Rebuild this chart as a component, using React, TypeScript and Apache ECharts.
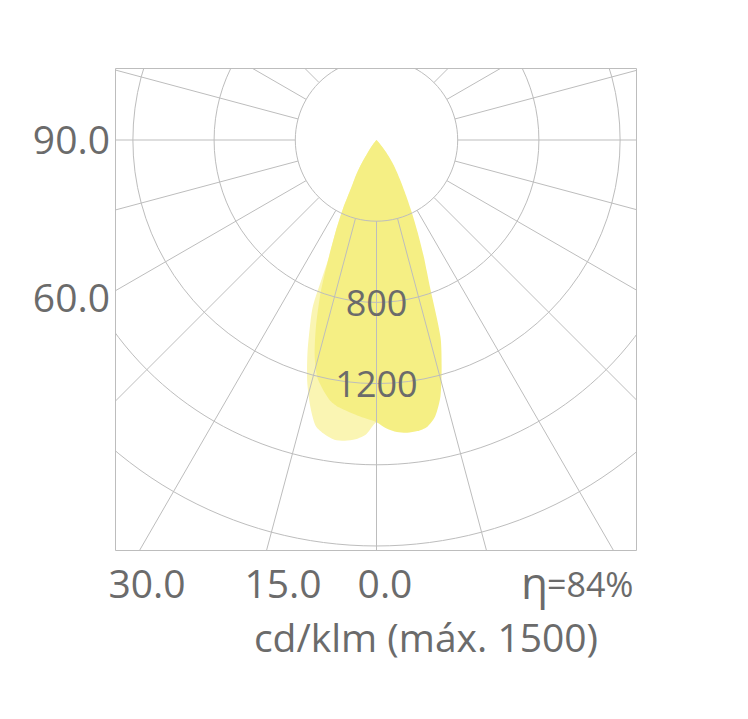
import React, { useEffect, useRef } from "react";
import * as echarts from "echarts";

// Polar angles (degrees from nadir) at which the intensity curves are sampled
const curveAngles = [0, 2, 4, 6, 8, 10, 12, 14, 16, 18, 20, 21, 22, 24, 26, 28, 30, 32, 35, 38, 42, 45];
// Plane A (strong yellow) – cd/klm, right half and left half
const planeARight = [1390, 1422, 1442, 1450, 1448, 1435, 1391, 1302, 1164, 1020, 769, 690, 625, 498, 395, 311, 247, 197, 136, 74, 20, 0];
const planeALeft = [1390, 1374, 1360, 1345, 1330, 1305, 1260, 1205, 1105, 965, 810, 720, 632, 494, 376, 261, 206, 152, 72, 35, 10, 0];
// Plane B (pale yellow) – cd/klm, right half and left half
const planeBRight = [1390, 1410, 1420, 1425, 1420, 1400, 1350, 1260, 1120, 980, 740, 670, 600, 480, 370, 290, 230, 180, 120, 60, 15, 0];
const planeBLeft = [1390, 1450, 1478, 1490, 1491, 1472, 1440, 1350, 1238, 1100, 950, 870, 640, 494, 376, 261, 206, 152, 72, 35, 10, 0];

// Radial grid lines every 15°
const radialAngles = [0, 15, 30, 45, 60, 75, 90, 105, 120, 135, 150, 165, 180, 195, 210, 225, 240, 255, 270, 285, 300, 315, 330, 345];
// Intensity rings
const ringMax = 2000;
const ringStep = 400;
const ringLabels = [800, 1200];
// Angle tick labels
const leftLabels = ["90.0", "60.0"];
const bottomLabels = ["30.0", "15.0", "0.0"];
const efficiencySymbol = "η";
const efficiencyText = "=84%";
const unitText = "cd/klm (máx. 1500)";

const GRID = "#bdbdbd";
const TEXT = "#6b6b6b";
const FONT = "'Open Sans', 'Noto Sans', sans-serif";

export default function App() {
  const ref = useRef<HTMLDivElement>(null);

  useEffect(() => {
    if (!ref.current) return;
    const chart = echarts.init(ref.current, undefined, { renderer: "svg" });

    const curveItem = (right: number[], left: number[], fill: string) =>
      (params: any, api: any) => {
        const pts: number[][] = [];
        for (let i = curveAngles.length - 1; i >= 0; i--) {
          pts.push(api.coord([right[i], 360 - curveAngles[i]]));
        }
        for (let i = 1; i < curveAngles.length; i++) {
          pts.push(api.coord([left[i], curveAngles[i]]));
        }
        return {
          type: "polygon",
          shape: { points: pts, smooth: 0.25 },
          style: { fill, stroke: "none" },
        };
      };

    const labelStyle = (text: string, x: number, y: number, align: string, size = 39) => ({
      type: "text",
      z: 60,
      x,
      y,
      style: {
        text,
        fill: TEXT,
        font: `${size}px ${FONT}`,
        textAlign: align,
        textVerticalAlign: "middle",
      },
    });

    chart.setOption({
      animation: false,
      backgroundColor: "#ffffff",
      polar: { center: [376.5, 140], radius: 406 },
      angleAxis: {
        type: "value",
        min: 0,
        max: 360,
        startAngle: 270,
        clockwise: true,
        axisLine: { show: false },
        axisTick: { show: false },
        axisLabel: { show: false },
        splitLine: { show: false },
      },
      radiusAxis: {
        type: "value",
        min: 0,
        max: ringMax,
        interval: ringStep,
        z: 6,
        axisLine: { show: false },
        axisTick: { show: false },
        splitLine: { show: true, lineStyle: { color: GRID, width: 1 } },
        axisLabel: {
          show: true,
          margin: 0,
          align: "center",
          verticalAlign: "middle",
          fontSize: 36,
          fontFamily: FONT,
          color: TEXT,
          formatter: (v: number) => (ringLabels.indexOf(v) >= 0 ? String(v) : ""),
        },
      },
      series: [
        {
          type: "custom",
          coordinateSystem: "polar",
          z: 1,
          silent: true,
          data: [[0, 0]],
          renderItem: curveItem(planeBRight, planeBLeft, "#faf5b3"),
        },
        {
          type: "custom",
          coordinateSystem: "polar",
          z: 2,
          silent: true,
          data: [[0, 0]],
          renderItem: curveItem(planeARight, planeALeft, "#f5ef84"),
        },
        {
          type: "custom",
          coordinateSystem: "polar",
          z: 4,
          silent: true,
          data: radialAngles.map((a) => [ringMax + 700, a]),
          renderItem: (params: any, api: any) => {
            const a = api.value(1);
            const p1 = api.coord([ringStep, a]);
            const p2 = api.coord([api.value(0), a]);
            return {
              type: "line",
              shape: { x1: p1[0], y1: p1[1], x2: p2[0], y2: p2[1] },
              style: { stroke: GRID, lineWidth: 1 },
            };
          },
        },
      ],
      graphic: [
        { type: "rect", z: 50, shape: { x: 0, y: 0, width: 748, height: 68 }, style: { fill: "#fff" } },
        { type: "rect", z: 50, shape: { x: 0, y: 0, width: 115, height: 719 }, style: { fill: "#fff" } },
        { type: "rect", z: 50, shape: { x: 637, y: 0, width: 111, height: 719 }, style: { fill: "#fff" } },
        { type: "rect", z: 50, shape: { x: 0, y: 551, width: 748, height: 168 }, style: { fill: "#fff" } },
        {
          type: "rect",
          z: 51,
          shape: { x: 115.5, y: 68.5, width: 521, height: 482 },
          style: { fill: "none", stroke: GRID, lineWidth: 1 },
        },
        labelStyle(leftLabels[0], 110, 138, "right"),
        labelStyle(leftLabels[1], 110, 296, "right"),
        labelStyle(bottomLabels[0], 147, 582, "center"),
        labelStyle(bottomLabels[1], 283, 582, "center"),
        labelStyle(bottomLabels[2], 385, 582, "center"),
        labelStyle(efficiencySymbol, 548, 582, "right", 44),
        labelStyle(efficiencyText, 547, 584, "left", 34),
        labelStyle(unitText, 426, 636, "center"),
      ],
    });

    return () => chart.dispose();
  }, []);

  return (
    <div
      ref={ref}
      style={{ position: "absolute", left: 0, top: 0, width: 748, height: 719 }}
    />
  );
}
